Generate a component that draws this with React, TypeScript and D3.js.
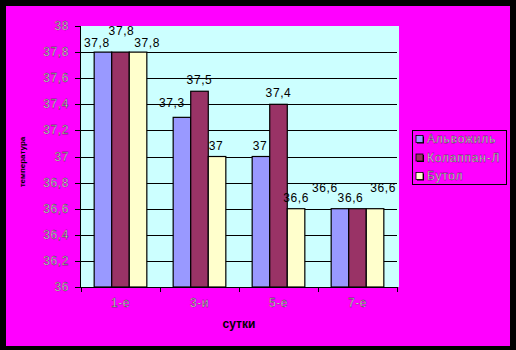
import React from "react";
import * as d3 from "d3";

const categories = ["1-е", "3-и", "5-е", "7-е"];
const seriesNames = ["Альвожиль", "Колаппан-Л", "Бутол"];
const alvozhil = [37.8, 37.3, 37.0, 36.6];
const kolappan = [37.8, 37.5, 37.4, 36.6];
const butol = [37.8, 37.0, 36.6, 36.6];
const yTicks = [36, 36.2, 36.4, 36.6, 36.8, 37, 37.2, 37.4, 37.6, 37.8, 38];
const yTitle = "температура";
const xTitle = "сутки";

const seriesValues = [alvozhil, kolappan, butol];
const colors = ["#9999FF", "#993366", "#FFFFCC"];
// label nudges [dx, dy] per category per series (style: Excel's overlap avoidance)
const labelNudge = [
  [[-6, 2], [1, -10], [9, 2]],
  [[-10, -3], [0, 0], [-1, 0]],
  [[-1, 0], [0, 0], [0, 0]],
  [[-15, -10], [-7, 0], [8, -10]],
];

const fmt = (v: number) => {
  const s = String(v);
  return s.replace(".", ",");
};

const FONT = "'Liberation Sans', Arial, sans-serif";

export default function App() {
  const W = 516, H = 350;
  const left = 80, right = 397, top = 26, bottom = 287;
  const x = d3.scaleBand<string>().domain(categories).range([81, 397]).paddingInner(1 / 3).paddingOuter(1 / 6);
  const xs = d3.scaleBand<string>().domain(seriesNames).range([0, x.bandwidth()]);
  const y = d3.scaleLinear().domain([36, 38]).range([bottom, top]);
  const step = x.step();
  const tickXs = d3.range(categories.length + 1).map((i) => 81 + i * step);

  return (
    <svg width={W} height={H} style={{ position: "absolute", left: 0, top: 0 }} fontFamily={FONT}>
      <rect x={0} y={0} width={W} height={H} fill="#000" />
      <rect x={6} y={6} width={504} height={340} fill="#FF00FF" />
      <rect x={left} y={top} width={399 - left} height={bottom - top} fill="#CCFFFF" />
      {yTicks.filter((t) => t > 36 && t < 38).map((t) => (
        <line key={"g" + t} x1={left} x2={right} y1={Math.round(y(t)) + 0.5} y2={Math.round(y(t)) + 0.5} stroke="#000" strokeWidth={1} />
      ))}
      {categories.map((c, ci) =>
        seriesValues.map((vals, si) => {
          const v = vals[ci];
          const bx = (x(c) as number) + (xs(seriesNames[si]) as number);
          const by = y(v);
          return (
            <rect key={c + si} x={bx} y={by} width={xs.bandwidth()} height={bottom - by} fill={colors[si]} stroke="#000" strokeWidth={1.2} />
          );
        })
      )}
      {categories.map((c, ci) =>
        seriesValues.map((vals, si) => {
          const v = vals[ci];
          const cx = (x(c) as number) + (xs(seriesNames[si]) as number) + xs.bandwidth() / 2;
          const [dx, dy] = labelNudge[ci][si];
          return (
            <text key={"l" + c + si} x={cx + dx} y={y(v) - 7 + dy} textAnchor="middle" fontSize={12} fill="#000" letterSpacing={0.6}>
              {fmt(v)}
            </text>
          );
        })
      )}
      {/* axes */}
      <line x1={left + 0.5} x2={left + 0.5} y1={top} y2={bottom} stroke="#000" strokeWidth={1} />
      <line x1={left} x2={right + 1} y1={bottom + 0.5} y2={bottom + 0.5} stroke="#000" strokeWidth={1} />
      {yTicks.map((t) => (
        <g key={"t" + t}>
          <line x1={75} x2={left} y1={Math.round(y(t)) + 0.5} y2={Math.round(y(t)) + 0.5} stroke="#000" />
          <text x={69} y={y(t) + 4} textAnchor="end" fontSize={12} fill="#f4f4f4" stroke="#222" strokeWidth={0.35} letterSpacing={0.6}>
            {fmt(t)}
          </text>
        </g>
      ))}
      {tickXs.map((tx, i) => (
        <line key={"xt" + i} x1={tx + 0.5} x2={tx + 0.5} y1={bottom} y2={bottom + 5} stroke="#000" />
      ))}
      {categories.map((c) => (
        <text key={"xl" + c} x={(x(c) as number) + x.bandwidth() / 2} y={307} textAnchor="middle" fontSize={12} fill="#f4f4f4" stroke="#222" strokeWidth={0.35} letterSpacing={0.6}>
          {c}
        </text>
      ))}
      <text x={239} y={328} textAnchor="middle" fontSize={12} fontWeight="bold" fill="#000">
        {xTitle}
      </text>
      <text transform="translate(25,162) rotate(-90)" textAnchor="middle" fontSize={8} fontWeight="bold" fill="#000">
        {yTitle}
      </text>
      {/* legend */}
      <rect x={412.5} y={130.5} width={94} height={54} fill="none" stroke="#000" strokeWidth={1} />
      {seriesNames.map((s, i) => (
        <g key={"lg" + s} transform={`translate(0, ${138.5 + i * 18.5})`}>
          <rect x={417} y={-2} width={7} height={7} fill="#000" />
          <rect x={416} y={-3} width={7} height={7} fill={colors[i]} stroke="#000" strokeWidth={0.8} />
          <text x={427} y={4.5} fontSize={12} fill="#f4f4f4" stroke="#222" strokeWidth={0.35} letterSpacing={0.8}>
            {s}
          </text>
        </g>
      ))}
    </svg>
  );
}
